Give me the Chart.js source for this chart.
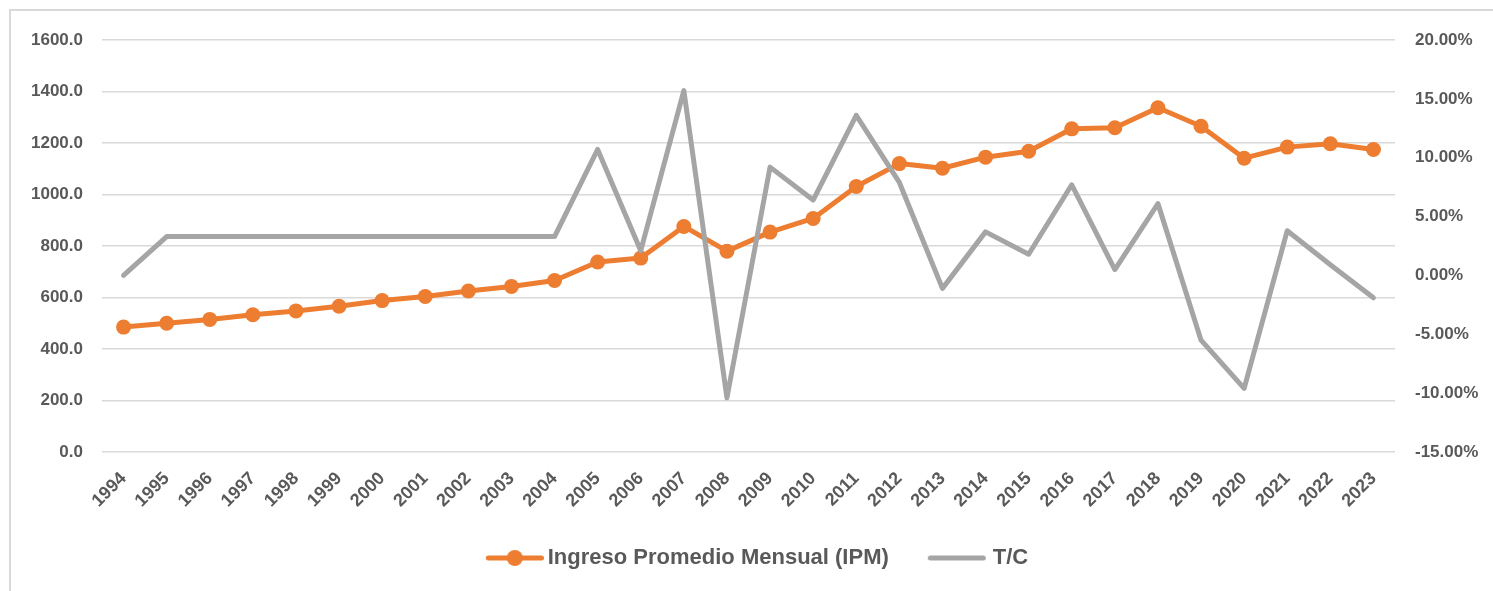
<!DOCTYPE html>
<html>
<head>
<meta charset="utf-8">
<script src="https://cdn.jsdelivr.net/npm/chart.js@4.4.1/dist/chart.umd.min.js"></script>
<style>
  html, body { margin: 0; padding: 0; background: #fff; }
  #wrap { position: relative; width: 1493px; height: 591px; overflow: hidden; }
  #frame { position: absolute; left: 9px; top: 9px; width: 1500px; height: 600px; border: 2px solid #d9d9d9; box-sizing: border-box; }
  #chart { position: absolute; left: 0; top: 0; }
</style>
</head>
<body>
<div id="wrap">
  <div id="frame"></div>
  <canvas id="chart" width="1493" height="591"></canvas>
</div>
<script>
// categories (x tick labels)
var years = ['1994', '1995', '1996', '1997', '1998', '1999', '2000', '2001', '2002', '2003',
             '2004', '2005', '2006', '2007', '2008', '2009', '2010', '2011', '2012', '2013',
             '2014', '2015', '2016', '2017', '2018', '2019', '2020', '2021', '2022', '2023'];

// Ingreso Promedio Mensual (IPM), left axis
var ipm = [485, 500, 515, 533, 548, 566, 588, 604, 625, 643,
           666, 738, 753, 876, 780, 854, 907, 1031, 1120, 1102,
           1145, 1168, 1255, 1259, 1337, 1265, 1141, 1184, 1197, 1175];

// T/C in percent, right axis
var tc = [0.0, 3.3, 3.3, 3.3, 3.3, 3.3, 3.3, 3.3, 3.3, 3.3,
          3.3, 10.7, 2.1, 15.7, -10.4, 9.2, 6.4, 13.6, 7.9, -1.1,
          3.7, 1.8, 7.7, 0.5, 6.1, -5.5, -9.6, 3.8, 0.9, -1.9];

var seriesNames = ['Ingreso Promedio Mensual (IPM)', 'T/C'];

var ORANGE = '#ED7D31';
var GRAY = '#A5A5A5';
var TEXT = '#595959';
var GRID = '#d9d9d9';

Chart.defaults.font.family = "'Liberation Sans', Arial, sans-serif";

// legend marker: short line ending just before the text, dot for IPM
var BOX_W = 83;
function legendMarker(color, withDot, endGap) {
    var c = document.createElement('canvas');
    c.width = BOX_W + 14;
    c.height = 18;
    var g = c.getContext('2d');
    var x1 = c.width - endGap - 2.5;
    var x0 = x1 - 53;
    g.strokeStyle = color;
    g.lineWidth = 5;
    g.lineCap = 'round';
    g.beginPath();
    g.moveTo(x0, 9);
    g.lineTo(x1, 9);
    g.stroke();
    if (withDot) {
        g.fillStyle = color;
        g.beginPath();
        g.arc((x0 + x1) / 2, 9, 8, 0, Math.PI * 2);
        g.fill();
    }
    return c;
}
var markers = [legendMarker(ORANGE, true, 0), legendMarker(GRAY, false, 3)];

var tickFont = { size: 17, weight: 'bold' };

new Chart(document.getElementById('chart'), {
    type: 'line',
    data: {
        labels: years,
        datasets: [{
            label: seriesNames[0],
            data: ipm,
            yAxisID: 'y',
            borderColor: ORANGE,
            backgroundColor: ORANGE,
            borderWidth: 5,
            borderJoinStyle: 'round',
            borderCapStyle: 'round',
            pointRadius: 7.5,
            pointBorderWidth: 0,
            pointBackgroundColor: ORANGE,
            tension: 0,
            order: 1
        }, {
            label: seriesNames[1],
            data: tc,
            yAxisID: 'y1',
            borderColor: GRAY,
            backgroundColor: GRAY,
            borderWidth: 5,
            borderJoinStyle: 'round',
            borderCapStyle: 'round',
            pointRadius: 0,
            tension: 0,
            order: 0
        }]
    },
    options: {
        responsive: false,
        animation: false,
        layout: { padding: { top: 40, left: 0, right: 11, bottom: 12 } },
        plugins: {
            tooltip: { enabled: false },
            legend: {
                position: 'bottom',
                labels: {
                    usePointStyle: true,
                    pointStyleWidth: BOX_W,
                    padding: 10,
                    color: TEXT,
                    font: { size: 22, weight: 'bold' },
                    generateLabels: function(chart) {
                        return chart.data.datasets.map(function(ds, i) {
                            return {
                                text: ds.label,
                                pointStyle: markers[i],
                                fontColor: TEXT,
                                fillStyle: 'transparent',
                                strokeStyle: 'transparent',
                                lineWidth: 0,
                                hidden: false,
                                datasetIndex: i
                            };
                        });
                    }
                }
            }
        },
        scales: {
            x: {
                offset: true,
                grid: { display: false },
                border: { display: false },
                ticks: {
                    autoSkip: false,
                    minRotation: 45,
                    maxRotation: 45,
                    padding: 8,
                    color: TEXT,
                    font: { size: 18, weight: 'bold' }
                },
                afterFit: function(axis) { axis.height = 85; }
            },
            y: {
                position: 'left',
                min: 0,
                max: 1600,
                border: { display: false },
                grid: { color: GRID, lineWidth: 1.5, drawTicks: false },
                ticks: {
                    stepSize: 200,
                    padding: 19,
                    color: TEXT,
                    font: tickFont,
                    callback: function(v) { return v.toFixed(1); }
                },
                afterFit: function(axis) { axis.width = 102; }
            },
            y1: {
                position: 'right',
                min: -15,
                max: 20,
                border: { display: false },
                grid: { drawOnChartArea: false, drawTicks: false },
                ticks: {
                    stepSize: 5,
                    padding: 20,
                    color: TEXT,
                    font: tickFont,
                    callback: function(v) { return v.toFixed(2) + '%'; }
                },
                afterFit: function(axis) { axis.width = 87; }
            }
        }
    }
});
</script>
</body>
</html>
